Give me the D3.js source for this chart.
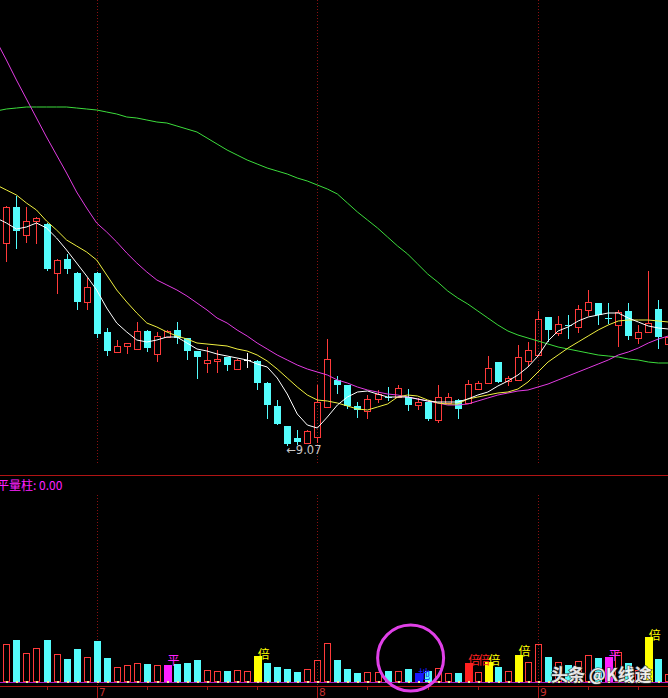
<!DOCTYPE html>
<html><head><meta charset="utf-8">
<script src="https://cdn.jsdelivr.net/npm/d3@7"></script>
<style>html,body{margin:0;padding:0;background:#000;overflow:hidden}</style>
</head><body>
<svg id="c" width="668" height="698"></svg>
<script>
// ---------- data ----------
const opens  = [11.09,11.45,11.17,11.31,11.28,10.79,10.93,10.79,10.50,10.79,10.20,10.00,10.06,10.03,10.21,9.98,10.15,10.22,10.14,10.01,9.89,9.91,9.95,9.83,9.92,9.91,9.69,9.46,9.26,9.14,9.09,9.15,9.45,9.72,9.67,9.46,9.41,9.53,9.55,9.55,9.55,9.47,9.50,9.32,9.49,9.52,9.49,9.63,9.69,9.90,9.71,9.72,9.91,9.97,10.35,10.19,10.27,10.25,10.42,10.49,10.34,10.27,10.41,10.14,10.20,10.43,10.08];
const highs  = [11.46,11.56,11.45,11.35,11.29,10.93,10.98,10.80,10.74,10.80,10.24,10.12,10.09,10.30,10.22,10.20,10.22,10.30,10.14,10.01,10.05,10.02,9.95,9.93,9.99,9.92,9.70,9.52,9.26,9.22,9.22,9.67,10.13,9.76,9.67,9.50,9.57,9.62,9.65,9.67,9.63,9.54,9.51,9.67,9.59,9.53,9.72,9.71,9.96,9.90,9.76,10.07,10.10,10.41,10.35,10.36,10.37,10.47,10.62,10.49,10.49,10.42,10.49,10.27,10.81,10.52,10.45];
const lows   = [10.91,11.04,11.10,11.09,10.82,10.59,10.79,10.43,10.43,10.15,9.97,9.99,9.99,10.02,10.01,9.91,10.15,10.09,9.93,9.74,9.80,9.80,9.82,9.82,9.85,9.63,9.34,9.28,9.07,9.08,9.08,9.10,9.44,9.59,9.44,9.35,9.34,9.50,9.52,9.55,9.42,9.43,9.32,9.30,9.48,9.34,9.49,9.62,9.69,9.70,9.67,9.72,9.87,9.97,10.11,10.17,10.14,10.20,10.37,10.28,10.29,10.06,10.13,10.09,10.19,10.04,10.05];
const closes = [11.45,11.21,11.31,11.34,10.83,10.92,10.83,10.50,10.65,10.18,10.01,10.06,10.09,10.21,10.04,10.16,10.21,10.14,10.01,9.95,9.92,9.93,9.87,9.92,9.92,9.69,9.47,9.28,9.08,9.10,9.21,9.50,9.93,9.67,9.46,9.42,9.53,9.58,9.55,9.64,9.47,9.50,9.33,9.55,9.55,9.43,9.68,9.69,9.84,9.70,9.74,9.95,10.02,10.33,10.22,10.28,10.27,10.43,10.50,10.37,10.34,10.40,10.16,10.20,10.29,10.15,10.15];

// moving averages; first value belongs to the bar just left of the window (index -1)
const ma5  = [11.34,11.29,11.23,11.25,11.29,11.24,11.14,11.02,10.89,10.76,10.62,10.44,10.29,10.20,10.12,10.10,10.12,10.15,10.15,10.09,10.03,10.01,9.98,9.96,9.94,9.92,9.88,9.85,9.74,9.58,9.38,9.27,9.24,9.35,9.47,9.55,9.60,9.61,9.58,9.55,9.55,9.55,9.53,9.51,9.50,9.50,9.50,9.53,9.57,9.60,9.66,9.71,9.77,9.85,9.96,10.11,10.21,10.25,10.31,10.35,10.37,10.39,10.39,10.34,10.30,10.26,10.24,10.23];
const ma10 = [11.67,11.62,11.57,11.49,11.42,11.31,11.22,11.12,11.06,11.00,10.92,10.77,10.62,10.50,10.39,10.29,10.25,10.20,10.16,10.13,10.09,10.08,10.07,10.06,10.03,10.01,9.97,9.91,9.83,9.74,9.65,9.57,9.52,9.51,9.49,9.46,9.43,9.42,9.45,9.48,9.55,9.57,9.56,9.52,9.49,9.48,9.48,9.53,9.55,9.57,9.59,9.60,9.63,9.70,9.80,9.90,9.97,10.04,10.10,10.16,10.22,10.27,10.31,10.32,10.32,10.32,10.31,10.30];
const ma20 = [13.11,12.92,12.72,12.53,12.34,12.15,11.97,11.79,11.60,11.44,11.29,11.20,11.10,10.99,10.89,10.80,10.72,10.67,10.62,10.56,10.49,10.42,10.34,10.29,10.22,10.16,10.09,10.03,9.97,9.92,9.87,9.83,9.80,9.77,9.72,9.69,9.65,9.62,9.60,9.58,9.57,9.55,9.53,9.51,9.49,9.47,9.47,9.48,9.51,9.54,9.57,9.59,9.61,9.62,9.65,9.68,9.72,9.76,9.80,9.84,9.88,9.92,9.97,10.00,10.04,10.09,10.13,10.16];
const ma60 = [12.41,12.43,12.44,12.45,12.45,12.45,12.45,12.45,12.44,12.43,12.42,12.40,12.38,12.35,12.34,12.32,12.30,12.29,12.26,12.23,12.20,12.14,12.08,12.02,11.97,11.92,11.88,11.84,11.81,11.78,11.74,11.71,11.67,11.63,11.58,11.49,11.40,11.32,11.24,11.15,11.06,10.98,10.88,10.78,10.70,10.61,10.54,10.48,10.41,10.34,10.27,10.21,10.17,10.14,10.11,10.08,10.05,10.03,10.01,9.99,9.97,9.96,9.95,9.93,9.92,9.90,9.89,9.89];

const volumes = [3.8,4.2,2.87,3.37,4.2,2.77,2.27,3.27,2.47,4.1,2.37,1.53,1.7,1.87,1.8,1.7,1.7,1.8,1.93,2.2,1.2,1.1,1.1,1.2,1.1,2.6,1.93,1.53,1.3,1.03,1.3,2.2,3.87,2.2,1.27,0.93,1.03,0.97,1.1,1.1,1.3,0.87,1.1,1.37,0.87,0.87,1.9,1.0,2.03,1.5,1.1,2.7,1.97,3.8,2.53,1.97,1.7,2.1,2.7,2.45,2.53,3.03,1.95,1.25,4.53,2.35,0.8];
// u = up (hollow red), d = down (cyan), p = 平量柱, y = 倍量 (yellow), r = 倍量 (red), b = 地量
const volKinds = ("uduududdud"+"duuudupddd"+"uuduuydddd"+"uuuddduudu"+"dbduudruyd"+"uyuududuud"+"puduydu").split("");
const volMarks = [
  {i:16,t:"平",k:"p",lvl:1.7},{i:25,t:"倍",k:"y",lvl:2.3},{i:41,t:"地",k:"b",lvl:0.3},
  {i:46,t:"倍",k:"r",lvl:1.75},{i:47,t:"倍",k:"r",lvl:1.75},{i:48,t:"倍",k:"y",lvl:1.75},
  {i:51,t:"倍",k:"y",lvl:2.6},{i:60,t:"平",k:"p",lvl:2.2},{i:64,t:"倍",k:"y",lvl:4.2}
];
const monthTicks = [{i:9,t:"7"},{i:31,t:"8"},{i:53,t:"9"}];
const weekTicks = [4,14,20,25,36,42,47,58,63];
const lowMark = {i:28, price:9.07, text:"←9.07"};
const indicatorTitle = "平量柱: 0.00";
const circleMark = {i:40.3, vol:2.4};
const watermark = "头条 @K线途";

// ---------- drawing ----------
const W=668,H=698;
const COL = {red:"#ff3a3a", cyan:"#54fcfc", white:"#ffffff", yellow:"#f0f040", magenta:"#e33ce3", green:"#3cdc3c",
             grid:"#8a1010", axis:"#b01414", p:"#ff20ff", y:"#ffff00", r:"#ff2020", b:"#1a1aff"};
const svg=d3.select("#c");
svg.append("rect").attr("width",W).attr("height",H).attr("fill","#000");

const x=d3.scaleLinear().domain([0,66]).range([6.4,668.4]);
const y=d3.scaleLinear().domain([9.07,13.52]).range([445,0]);
const yv=d3.scaleLinear().domain([0,5]).range([682,632]);

const crisp = svg.append("g").attr("shape-rendering","crispEdges");

// month dotted lines
monthTicks.forEach(m=>{
  const xx=Math.round(x(m.i))+0.5;
  crisp.append("line").attr("x1",xx).attr("x2",xx).attr("y1",0).attr("y2",465)
    .attr("stroke",COL.grid).attr("stroke-dasharray","1,2");
  crisp.append("line").attr("x1",xx).attr("x2",xx).attr("y1",495).attr("y2",686)
    .attr("stroke",COL.grid).attr("stroke-dasharray","1,2");
});

// separator line
crisp.append("line").attr("x1",0).attr("x2",W).attr("y1",475.5).attr("y2",475.5).attr("stroke",COL.axis);

// candles
const cg = crisp.append("g");
opens.forEach((o,i)=>{
  const c=closes[i], h=highs[i], l=lows[i];
  const cx=Math.round(x(i)), left=cx-3, wx=cx+0.5;
  const yh=Math.round(y(h)), yl=Math.round(y(l));
  if (c>o){
    const top=Math.round(y(c)), bot=Math.round(y(o));
    cg.append("rect").attr("x",left+0.5).attr("y",top+0.5).attr("width",6).attr("height",Math.max(1,bot-top))
      .attr("fill","none").attr("stroke",COL.red);
    if (yh<top) cg.append("line").attr("x1",wx).attr("x2",wx).attr("y1",yh).attr("y2",top).attr("stroke",COL.red);
    if (yl>bot+1) cg.append("line").attr("x1",wx).attr("x2",wx).attr("y1",bot+1).attr("y2",yl+1).attr("stroke",COL.red);
  } else if (c<o){
    const top=Math.round(y(o)), bot=Math.round(y(c));
    cg.append("line").attr("x1",wx).attr("x2",wx).attr("y1",yh).attr("y2",yl+1).attr("stroke",COL.cyan);
    cg.append("rect").attr("x",left).attr("y",top).attr("width",7).attr("height",Math.max(1,bot-top)).attr("fill",COL.cyan);
  } else {
    const prev = i>0?closes[i-1]:c;
    const col = c>prev?COL.red:(c<prev?COL.cyan:COL.white);
    const yy=Math.round(y(c))+0.5;
    cg.append("line").attr("x1",wx).attr("x2",wx).attr("y1",yh).attr("y2",yl+1).attr("stroke",col);
    cg.append("line").attr("x1",left).attr("x2",left+7).attr("y1",yy).attr("y2",yy).attr("stroke",col);
  }
});

// moving averages
const line=d3.line().x((d,k)=>x(k-1)).y(d=>y(d));
[[ma60,COL.green],[ma20,COL.magenta],[ma10,COL.yellow],[ma5,COL.white]].forEach(([arr,col])=>{
  svg.append("path").attr("d",line(arr)).attr("fill","none").attr("stroke",col).attr("stroke-width",1);
});

// low label
svg.append("text").attr("x",x(lowMark.i)-1).attr("y",y(lowMark.price)+8.5)
  .attr("fill","#c8c8c8").attr("font-family","'DejaVu Sans',sans-serif").attr("font-size",11.5).text(lowMark.text);

// indicator title
svg.append("text").attr("x",-3).attr("y",489.5).attr("fill",COL.p).attr("font-family","'Noto Sans CJK SC',sans-serif")
  .attr("font-size",12).text(indicatorTitle);

// volume bars
const vg=crisp.append("g");
volumes.forEach((v,i)=>{
  const k=volKinds[i];
  const cx=Math.round(x(i)), left=cx-3;
  const top=Math.round(yv(v)), base=Math.round(yv(0));
  if (k==="u"){
    vg.append("rect").attr("x",left+0.5).attr("y",top+0.5).attr("width",6).attr("height",base-top-1)
      .attr("fill","none").attr("stroke",COL.red);
  } else {
    const fill = k==="d"?COL.cyan:COL[k];
    const wide = (k==="d")?0:1;
    vg.append("rect").attr("x",left).attr("y",top).attr("width",7+wide).attr("height",base-top).attr("fill",fill);
  }
});
// baseline line and markers
crisp.append("line").attr("x1",0).attr("x2",W).attr("y1",682.5).attr("y2",682.5).attr("stroke","#b020c0");
volumes.forEach((v,i)=>{
  const cx=Math.round(x(i));
  crisp.append("rect").attr("x",cx).attr("y",681).attr("width",2).attr("height",2).attr("fill","#f4e890");
});
// volume marks
volMarks.forEach(m=>{
  svg.append("text").attr("x",x(m.i)+0.5).attr("y",yv(m.lvl)).attr("fill",COL[m.k])
    .attr("font-family","'Noto Sans CJK SC',sans-serif").attr("font-size",12).text(m.t);
});

// bottom axis
crisp.append("line").attr("x1",0).attr("x2",W).attr("y1",686.5).attr("y2",686.5).attr("stroke",COL.axis);
weekTicks.forEach(i=>{
  const xx=Math.round(x(i))+0.5;
  crisp.append("line").attr("x1",xx).attr("x2",xx).attr("y1",687).attr("y2",690).attr("stroke",COL.axis);
});
monthTicks.forEach(m=>{
  const xx=Math.round(x(m.i))+0.5;
  crisp.append("line").attr("x1",xx).attr("x2",xx).attr("y1",687).attr("y2",698).attr("stroke",COL.axis);
  svg.append("text").attr("x",xx+1.5).attr("y",696).attr("fill","#c83030")
    .attr("font-family","'DejaVu Sans',sans-serif").attr("font-size",10.5).text(m.t);
});

// annotation circle
svg.append("circle").attr("cx",x(circleMark.i)).attr("cy",yv(circleMark.vol)).attr("r",33)
  .attr("fill","none").attr("stroke","#e040e8").attr("stroke-width",3);

// watermark
svg.append("text").attr("x",551).attr("y",681).attr("fill","#ffffff").attr("fill-opacity",0.9)
  .attr("stroke","#404040").attr("stroke-width",1.2).attr("paint-order","stroke")
  .attr("font-family","'Noto Sans CJK SC',sans-serif").attr("font-size",17).attr("font-weight","bold").text(watermark);
</script>
</body></html>
